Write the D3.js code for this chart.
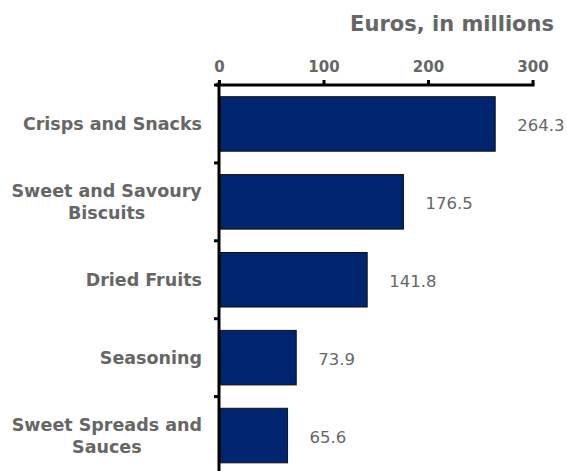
<!DOCTYPE html>
<html>
<head>
<meta charset="utf-8">
<script src="https://cdn.jsdelivr.net/npm/d3@7"></script>
<style>
  body { margin: 0; background: #fff; }
  svg { display: block; }
</style>
</head>
<body>
<div id="chart"></div>
<script>
const categories = ["Crisps and Snacks", "Sweet and Savoury Biscuits", "Dried Fruits", "Seasoning", "Sweet Spreads and Sauces"];
const labelLines = [["Crisps and Snacks"], ["Sweet and Savoury", "Biscuits"], ["Dried Fruits"], ["Seasoning"], ["Sweet Spreads and", "Sauces"]];
const values = [264.3, 176.5, 141.8, 73.9, 65.6];
const tickValues = [0, 100, 200, 300];
const title = "Euros, in millions";

const width = 567, height = 471;
const font = "'DejaVu Sans', Verdana, sans-serif";

const svg = d3.select("#chart").append("svg")
  .attr("width", width)
  .attr("height", height);

const x = d3.scaleLinear().domain([0, 300]).range([219, 532.5]);
const y = d3.scaleBand().domain(categories).range([85, 85 + 77.9 * 5]).paddingInner(0.3).paddingOuter(0.15);

// title
svg.append("text")
  .attr("x", 554).attr("y", 31)
  .attr("text-anchor", "end")
  .style("font-family", font).style("font-weight", "bold").style("font-size", "21px")
  .style("fill", "#666")
  .text(title);

// bars
svg.selectAll("rect.bar")
  .data(values)
  .join("rect")
  .attr("class", "bar")
  .attr("x", x(0))
  .attr("y", (d, i) => y(categories[i]))
  .attr("width", d => x(d) - x(0))
  .attr("height", y.bandwidth())
  .attr("fill", "#00256e")
  .attr("stroke", "#111")
  .attr("stroke-width", 1);

// value labels
svg.selectAll("text.val")
  .data(values)
  .join("text")
  .attr("class", "val")
  .attr("x", d => x(d) + 22)
  .attr("y", (d, i) => y(categories[i]) + y.bandwidth() / 2 + 7)
  .style("font-family", font).style("font-size", "16.5px")
  .style("fill", "#666")
  .text(d => d.toFixed(1));

// top axis
const xAxis = svg.append("g")
  .attr("transform", "translate(0,85)")
  .call(d3.axisTop(x).tickValues(tickValues).tickSize(5).tickPadding(8));
xAxis.select(".domain").attr("stroke", "#000").attr("stroke-width", 3).attr("d", `M${x(0) - 3},0H${x(300) + 2}`);
xAxis.selectAll(".tick line").attr("stroke", "#000").attr("stroke-width", 3);
xAxis.selectAll(".tick text")
  .style("font-family", font).style("font-weight", "bold").style("font-size", "15px")
  .style("fill", "#666");

// left axis line and band ticks
svg.append("line")
  .attr("x1", x(0)).attr("x2", x(0))
  .attr("y1", 82).attr("y2", height)
  .attr("stroke", "#000").attr("stroke-width", 3);

svg.selectAll("line.ctick")
  .data(categories)
  .join("line")
  .attr("class", "ctick")
  .attr("x1", x(0) - 5).attr("x2", x(0))
  .attr("y1", c => y(c) - (y.step() - y.bandwidth()) / 2)
  .attr("y2", c => y(c) - (y.step() - y.bandwidth()) / 2)
  .attr("stroke", "#000").attr("stroke-width", 3);

// category labels
svg.selectAll("text.cat")
  .data(labelLines)
  .join("text")
  .attr("class", "cat")
  .attr("text-anchor", "middle")
  .style("font-family", font).style("font-weight", "bold").style("font-size", "17.5px")
  .style("fill", "#666")
  .each(function(lines, i) {
    const cy = y(categories[i]) + y.bandwidth() / 2;
    const lh = 21.8;
    const t = d3.select(this);
    lines.forEach((ln, j) => {
      t.append("tspan")
        .attr("x", 0)
        .attr("y", cy + 6.3 + (j - (lines.length - 1) / 2) * lh)
        .text(ln);
    });
  });

// right-align the block, centre the lines within it
svg.selectAll("text.cat").each(function() {
  const w = this.getBBox().width;
  d3.select(this).selectAll("tspan").attr("x", 202 - w / 2);
});
</script>
</body>
</html>
